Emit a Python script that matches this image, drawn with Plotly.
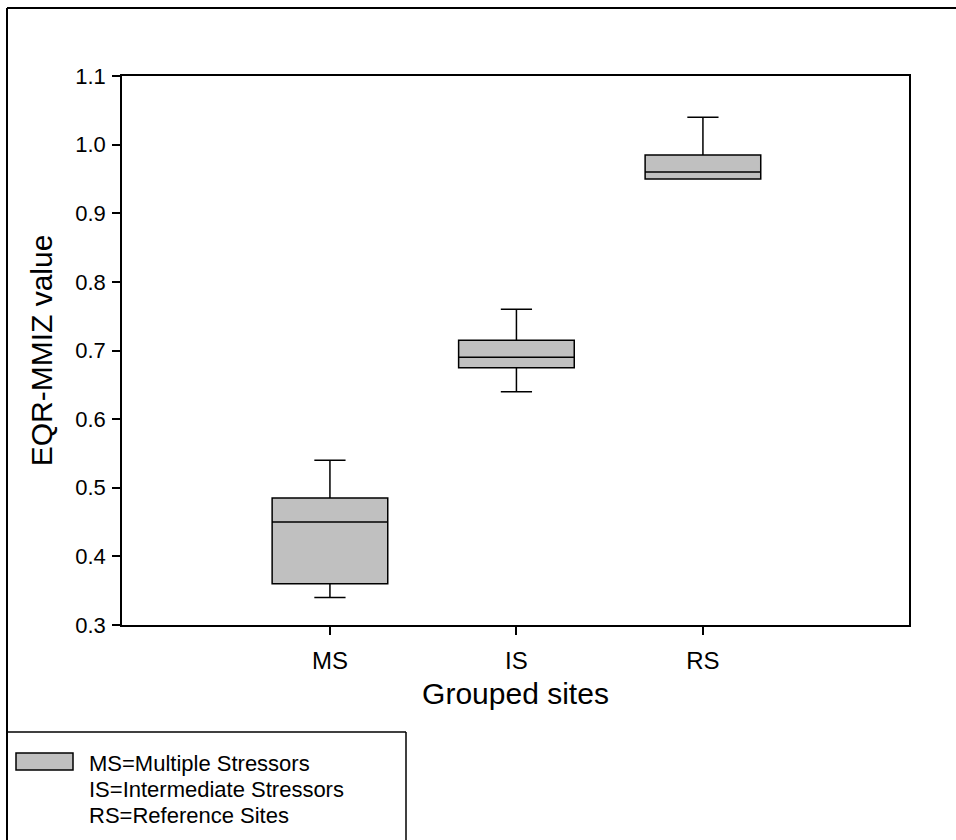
import plotly.graph_objects as go

# ---- data ----
groups = ["MS", "IS", "RS"]
positions = [1, 2, 3]
lower_whisker = [0.34, 0.64, 0.95]
q1_vals = [0.36, 0.675, 0.95]
median_vals = [0.45, 0.69, 0.96]
q3_vals = [0.485, 0.715, 0.985]
upper_whisker = [0.54, 0.76, 1.04]
y_ticks = [0.3, 0.4, 0.5, 0.6, 0.7, 0.8, 0.9, 1.0, 1.1]
legend_lines = ["MS=Multiple Stressors", "IS=Intermediate Stressors", "RS=Reference Sites"]

W, H = 956, 840
L, R, T, B = 122, 909, 76, 625  # plot area in pixels

def px(x):
    return (x - L) / (R - L)

def py(y):
    return (B - y) / (B - T)

FONT = "Liberation Sans, Arial, sans-serif"

fig = go.Figure()
for i, g in enumerate(groups):
    fig.add_trace(go.Box(
        x=[positions[i]],
        q1=[q1_vals[i]], median=[median_vals[i]], q3=[q3_vals[i]],
        lowerfence=[lower_whisker[i]], upperfence=[upper_whisker[i]],
        name=g, width=0.62, whiskerwidth=0.27,
        fillcolor="#c0c0c0", line=dict(color="black", width=1.5),
        boxpoints=False, showlegend=False, hoverinfo="skip",
    ))

shapes = [
    # outer frame (left and top)
    dict(type="line", xref="paper", yref="paper", x0=px(7), x1=px(957), y0=py(8), y1=py(8),
         line=dict(color="black", width=2)),
    dict(type="line", xref="paper", yref="paper", x0=px(7), x1=px(7), y0=py(8), y1=py(841),
         line=dict(color="black", width=2)),
    # legend box
    dict(type="line", xref="paper", yref="paper", x0=px(7), x1=px(406), y0=py(732), y1=py(732),
         line=dict(color="black", width=1.5)),
    dict(type="line", xref="paper", yref="paper", x0=px(406), x1=px(406), y0=py(732), y1=py(841),
         line=dict(color="black", width=1.5)),
    # legend swatch
    dict(type="rect", xref="paper", yref="paper", x0=px(16), x1=px(73), y0=py(770), y1=py(753),
         fillcolor="#c0c0c0", line=dict(color="black", width=1.5)),
]

annotations = []
for k, txt in enumerate(legend_lines):
    annotations.append(dict(
        text=txt, xref="paper", yref="paper", x=px(87), y=py(763 + 26 * k),
        xanchor="left", yanchor="middle", showarrow=False,
        font=dict(family=FONT, size=22, color="black"),
    ))

fig.update_layout(
    width=W, height=H,
    margin=dict(l=L, r=W - R, t=T, b=H - B),
    plot_bgcolor="white", paper_bgcolor="white",
    font=dict(family=FONT, color="black"),
    shapes=shapes, annotations=annotations,
    xaxis=dict(
        range=[-0.115, 4.105], tickvals=positions, ticktext=groups,
        ticks="outside", ticklen=8, tickwidth=1.5, tickcolor="black",
        showline=True, linecolor="black", linewidth=1.5, mirror=True,
        showgrid=False, zeroline=False, ticklabelstandoff=5,
        tickfont=dict(family=FONT, size=24, color="black"),
        title=dict(text="Grouped sites", font=dict(family=FONT, size=30, color="black"), standoff=10),
    ),
    yaxis=dict(
        range=[0.3, 1.1], tickvals=y_ticks, tickformat=".1f",
        ticks="outside", ticklen=8, tickwidth=1.5, tickcolor="black",
        showline=True, linecolor="black", linewidth=1.5, mirror=True,
        showgrid=False, zeroline=False, ticklabelstandoff=2,
        tickfont=dict(family=FONT, size=22, color="black"),
        title=dict(text="EQR-MMIZ value", font=dict(family=FONT, size=30, color="black"), standoff=14),
    ),
)

fig.write_html("out.html")
